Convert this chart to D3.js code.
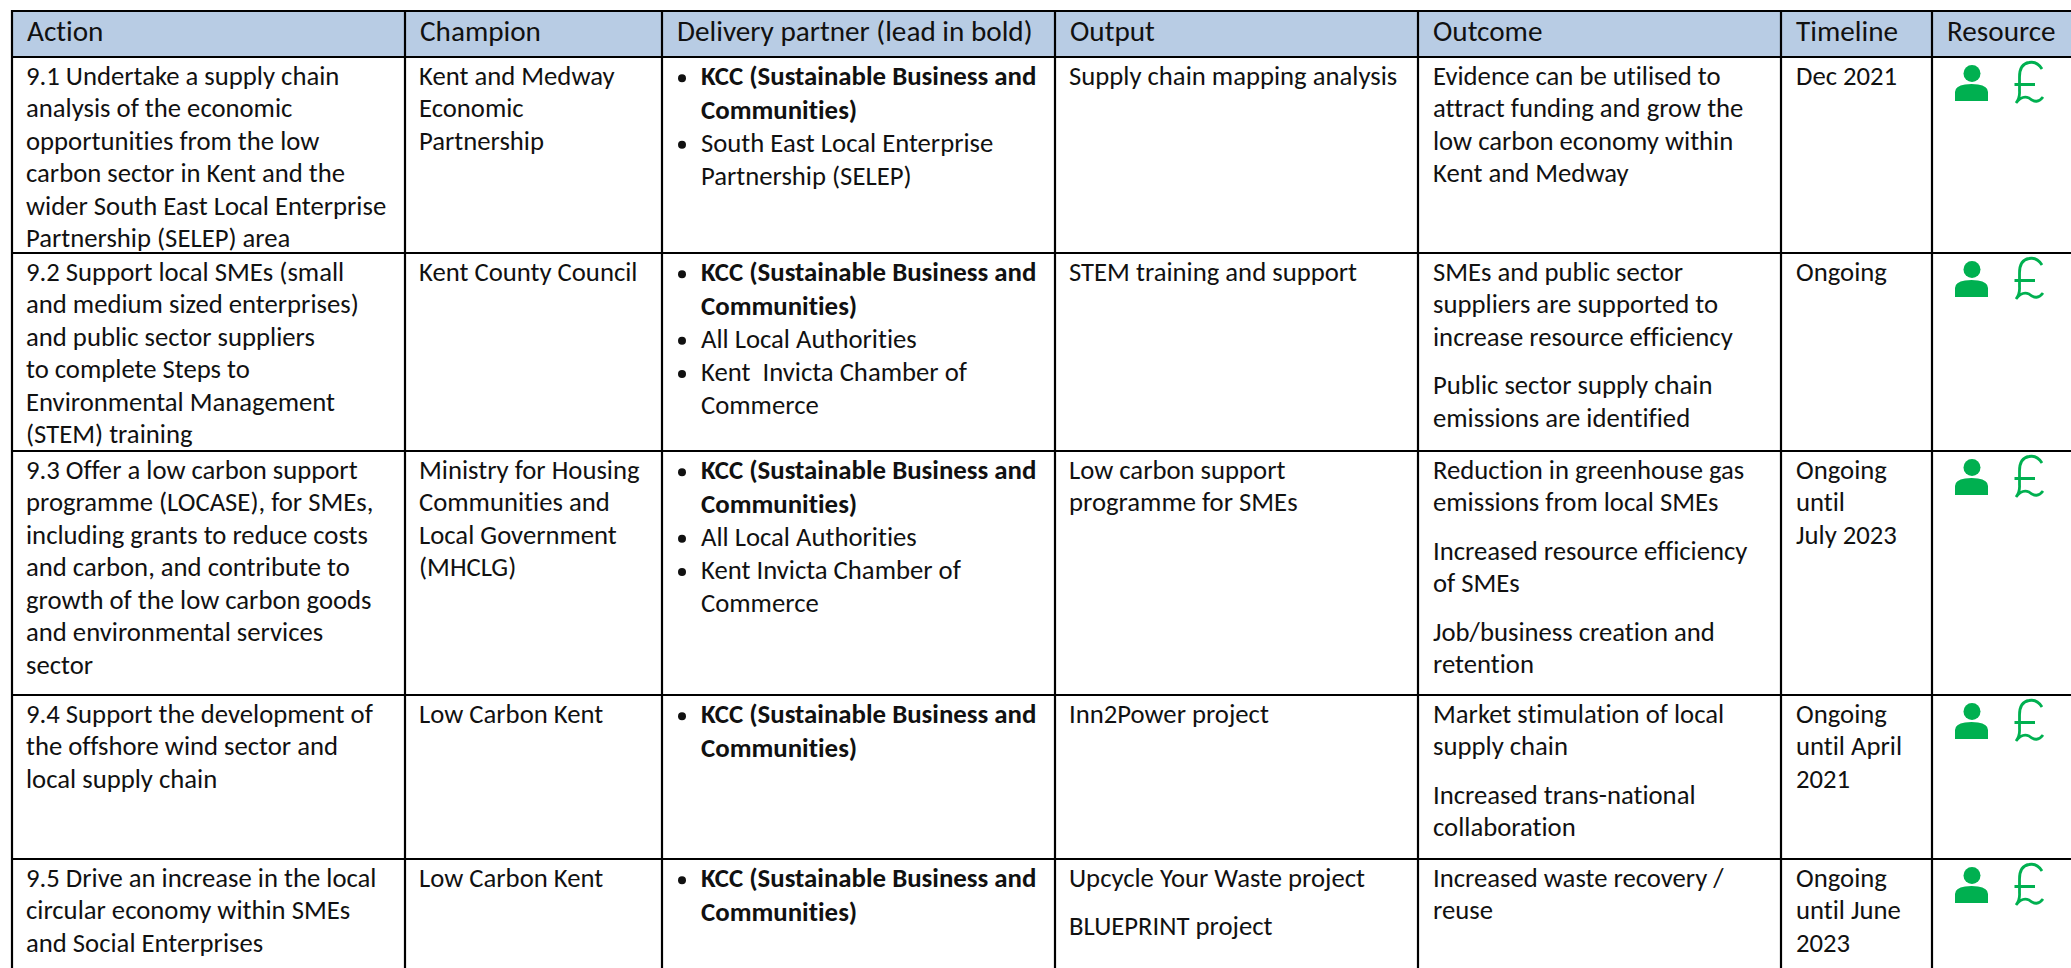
<!DOCTYPE html>
<html><head><meta charset="utf-8">
<script src="https://cdnjs.cloudflare.com/ajax/libs/d3/7.8.5/d3.min.js"></script>
<style>html,body{margin:0;background:#fff}svg{display:block}text{font-family:Carlito,Lato,"Open Sans",sans-serif;fill:#111;font-variant-ligatures:none;white-space:pre}</style>
</head><body><svg id="c" width="2071" height="968"></svg>
<script>
const columns=["Action","Champion","Delivery partner (lead in bold)","Output","Outcome","Timeline","Resource"];
const actions=[
["9.1 Undertake a supply chain","analysis of the economic","opportunities from the low","carbon sector in Kent and the","wider South East Local Enterprise","Partnership (SELEP) area"],
["9.2 Support local SMEs (small","and medium sized enterprises)","and public sector suppliers","to complete Steps to","Environmental Management","(STEM) training"],
["9.3 Offer a low carbon support","programme (LOCASE), for SMEs,","including grants to reduce costs","and carbon, and contribute to","growth of the low carbon goods","and environmental services","sector"],
["9.4 Support the development of","the offshore wind sector and","local supply chain"],
["9.5 Drive an increase in the local","circular economy within SMEs","and Social Enterprises"]];
const champions=[
["Kent and Medway","Economic","Partnership"],["Kent County Council"],
["Ministry for Housing","Communities and","Local Government","(MHCLG)"],["Low Carbon Kent"],["Low Carbon Kent"]];
const leadPartner=["KCC (Sustainable Business and","Communities)"];
const otherPartners=[
[["South East Local Enterprise","Partnership (SELEP)"]],
[["All Local Authorities"],["Kent  Invicta Chamber of","Commerce"]],
[["All Local Authorities"],["Kent Invicta Chamber of","Commerce"]],[],[]];
const outputs=[[["Supply chain mapping analysis"]],[["STEM training and support"]],[["Low carbon support","programme for SMEs"]],[["Inn2Power project"]],[["Upcycle Your Waste project"],["BLUEPRINT project"]]];
const outcomes=[
[["Evidence can be utilised to","attract funding and grow the","low carbon economy within","Kent and Medway"]],
[["SMEs and public sector","suppliers are supported to","increase resource efficiency"],["Public sector supply chain","emissions are identified"]],
[["Reduction in greenhouse gas","emissions from local SMEs"],["Increased resource efficiency","of SMEs"],["Job/business creation and","retention"]],
[["Market stimulation of local","supply chain"],["Increased trans-national","collaboration"]],
[["Increased waste recovery /","reuse"]]];
const timelines=[["Dec 2021"],["Ongoing"],["Ongoing","until","July 2023"],["Ongoing","until April","2021"],["Ongoing","until June","2023"]];

const colEdges=[12,405,662,1055,1418,1781,1932];
const rowEdges=[11,57,253,451,695,859];
const FS=26.7,BFS=26.85,HFS=29.2,LH=32.55,BLH=33.2,GAP=16,GREEN="#00B050";
const svg=d3.select("#c");
const body=svg.append("g");
const col=d3.scaleOrdinal().domain(columns).range(colEdges);
const row=d3.scaleOrdinal().domain(actions.map((_,i)=>i)).range(rowEdges.slice(1));
svg.insert("rect","g").attr("x",12).attr("y",11).attr("width",2059).attr("height",46).attr("fill","#B8CCE4");
columns.forEach(c=>{body.append("text").attr("x",col(c)+15).attr("y",41).attr("font-size",HFS).text(c);});
function lines(x,y,arr,weight,lh){arr.forEach((t,i)=>{body.append("text").attr("x",x).attr("y",y+i*(lh||LH)).attr("font-size",weight===700?BFS:FS).attr("font-weight",weight||400).text(t);});}
function paras(x,y,ps){let yy=y;ps.forEach(p=>{lines(x,yy,p);yy+=p.length*LH+GAP;});}
actions.forEach((a,i)=>{
 const y=row(i)+27.5;
 lines(col("Action")+14,y,a);
 lines(col("Champion")+14,y,champions[i]);
 let yy=y+.8,x=col("Delivery partner (lead in bold)");
 [[leadPartner,700],...otherPartners[i].map(p=>[p,400])].forEach(([p,w])=>{
  body.append("circle").attr("cx",x+20).attr("cy",yy-7).attr("r",4).attr("fill","#111");
  lines(x+39,yy,p,w,BLH); yy+=p.length*BLH;
 });
 paras(col("Output")+14,y,outputs[i]);
 paras(col("Outcome")+15,y,outcomes[i]);
 lines(col("Timeline")+15,y,timelines[i]);
 const rx=col("Resource"),ry=row(i);
 const g=body.append("g").attr("transform",`translate(${rx},${ry})`);
 g.append("circle").attr("cx",40).attr("cy",16.5).attr("r",8.5).attr("fill",GREEN);
 g.append("path").attr("d","M23 44V35Q23 29 33 27.5Q39.5 26.5 46 27.5Q56 29 56 35V44Z").attr("fill",GREEN);
 g.append("path").attr("d","M110 12Q105 4 97 5.5Q87.5 7 87.5 20V34Q88 41 84 46Q90 38 97 41Q105 48 111 40M82.5 27.5H103").attr("fill","none").attr("stroke",GREEN).attr("stroke-width",2.8);
});
colEdges.forEach(x=>body.append("line").attr("x1",x).attr("x2",x).attr("y1",10).attr("y2",968).attr("stroke","#000").attr("stroke-width",2.2));
rowEdges.forEach(y=>body.append("line").attr("x1",11).attr("x2",2071).attr("y1",y).attr("y2",y).attr("stroke","#000").attr("stroke-width",2.2));
</script></body></html>
